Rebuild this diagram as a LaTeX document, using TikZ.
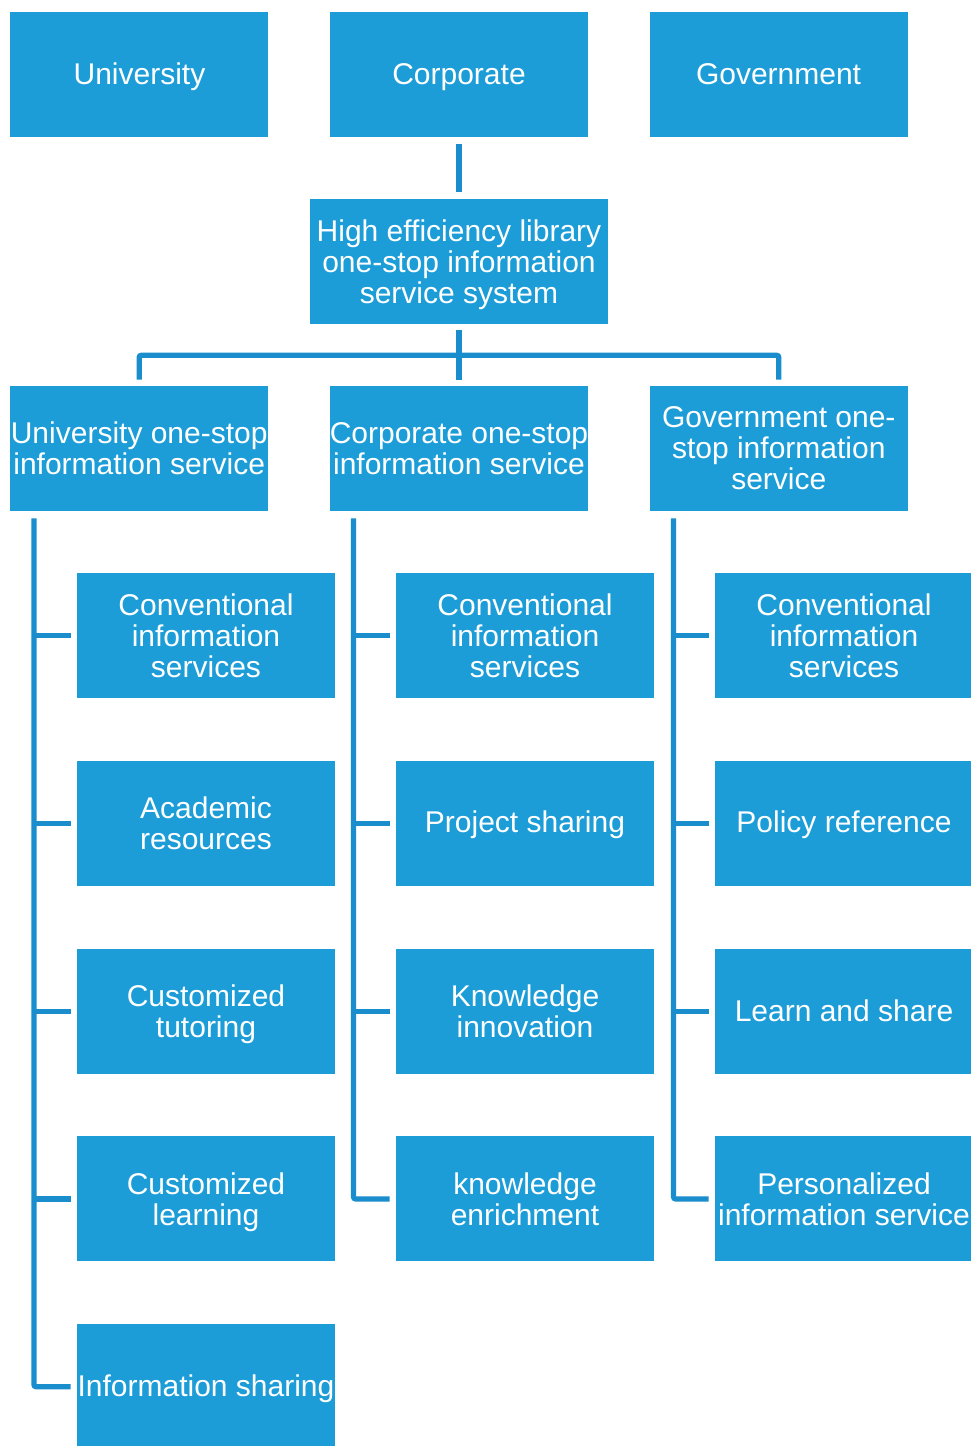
\documentclass[tikz,border=0pt]{standalone}
\usepackage{fontspec}
\setmainfont{Liberation Sans}
\usetikzlibrary{positioning}
\definecolor{boxblue}{RGB}{28,157,216}
\definecolor{lineblue}{RGB}{26,142,204}
\newcommand{\boxstrut}{\rule[-4pt]{0pt}{23.2pt}}
\tikzset{
    unit/.style={
        rectangle,
        fill=boxblue,
        text=white,
        align=center,
        inner sep=0pt,
        minimum width=193.5pt,
        minimum height=93.75pt,
        font=\fontsize{22.5pt}{23.25pt}\selectfont,
        execute at begin node=\boxstrut,
        execute at end node=\boxstrut,
    },
    multi/.style={
        unit,
        text depth=-0.5pt,
    },
    link/.style={
        draw=lineblue,
        line width=3.9pt,
        rounded corners=1.5pt,
    },
}
\begin{document}
\begin{tikzpicture}[x=0.75pt,y=-0.75pt,node distance=46.7pt and 45.75pt]
    \useasboundingbox (0,0) rectangle (971,1446);
    % top row
    \node [unit] (corp) at (459,74.5) {Corporate};
    \node [unit, left=of corp] (univ) {University};
    \node [unit, right=of corp] (gov) {Government};
    \node [multi, minimum width=223.5pt] (hub) at (459,261.5) {High efficiency library\\one-stop information\\service system};
    % second row
    \node [multi] (corpsvc) at (459,448.5) {Corporate one-stop\\information service};
    \node [multi, left=of corpsvc] (univsvc) {University one-stop\\information service};
    \node [multi, right=of corpsvc] (govsvc) {Government one-\\stop information\\service};
    % university branch
    \node [multi] (u1) at (206,635.5) {Conventional\\information\\services};
    \node [multi, below=of u1] (u2) {Academic\\resources};
    \node [multi, below=of u2] (u3) {Customized\\tutoring};
    \node [multi, below=of u3] (u4) {Customized\\learning};
    \node [unit, below=of u4] (u5) {Information sharing};
    % corporate branch
    \node [multi] (c1) at (525,635.5) {Conventional\\information\\services};
    \node [unit, below=of c1] (c2) {Project sharing};
    \node [multi, below=of c2] (c3) {Knowledge\\innovation};
    \node [multi, below=of c3] (c4) {knowledge\\enrichment};
    % government branch
    \node [multi] (g1) at (844,635.5) {Conventional\\information\\services};
    \node [unit, below=of g1] (g2) {Policy reference};
    \node [unit, below=of g2] (g3) {Learn and share};
    \node [multi, below=of g3] (g4) {Personalized\\information service};

    % connectors
    \draw [link, shorten <=5pt, shorten >=5pt] (corp.south) -- (hub.north);
    \draw [link, shorten <=4.5pt, shorten >=4.5pt] (hub.south) -- (corpsvc.north);
    \draw [link, shorten <=4.5pt, shorten >=4.5pt] (hub.south) -- ++(0,31) -| (univsvc.north);
    \draw [link, shorten <=4.5pt, shorten >=4.5pt] (hub.south) -- ++(0,31) -| (govsvc.north);

    \draw [link, shorten >=4.5pt] ([xshift=18pt,yshift=-5.25pt]univsvc.south west) |- (u5.west);
    \draw [link, shorten <=4.5pt] (u1.west) -- ++(-42,0);
    \draw [link, shorten <=4.5pt] (u2.west) -- ++(-42,0);
    \draw [link, shorten <=4.5pt] (u3.west) -- ++(-42,0);
    \draw [link, shorten <=4.5pt] (u4.west) -- ++(-42,0);

    \draw [link, shorten >=4.5pt] ([xshift=18pt,yshift=-5.25pt]corpsvc.south west) |- (c4.west);
    \draw [link, shorten <=4.5pt] (c1.west) -- ++(-42,0);
    \draw [link, shorten <=4.5pt] (c2.west) -- ++(-42,0);
    \draw [link, shorten <=4.5pt] (c3.west) -- ++(-42,0);

    \draw [link, shorten >=4.5pt] ([xshift=18pt,yshift=-5.25pt]govsvc.south west) |- (g4.west);
    \draw [link, shorten <=4.5pt] (g1.west) -- ++(-42,0);
    \draw [link, shorten <=4.5pt] (g2.west) -- ++(-42,0);
    \draw [link, shorten <=4.5pt] (g3.west) -- ++(-42,0);
\end{tikzpicture}
\end{document}
